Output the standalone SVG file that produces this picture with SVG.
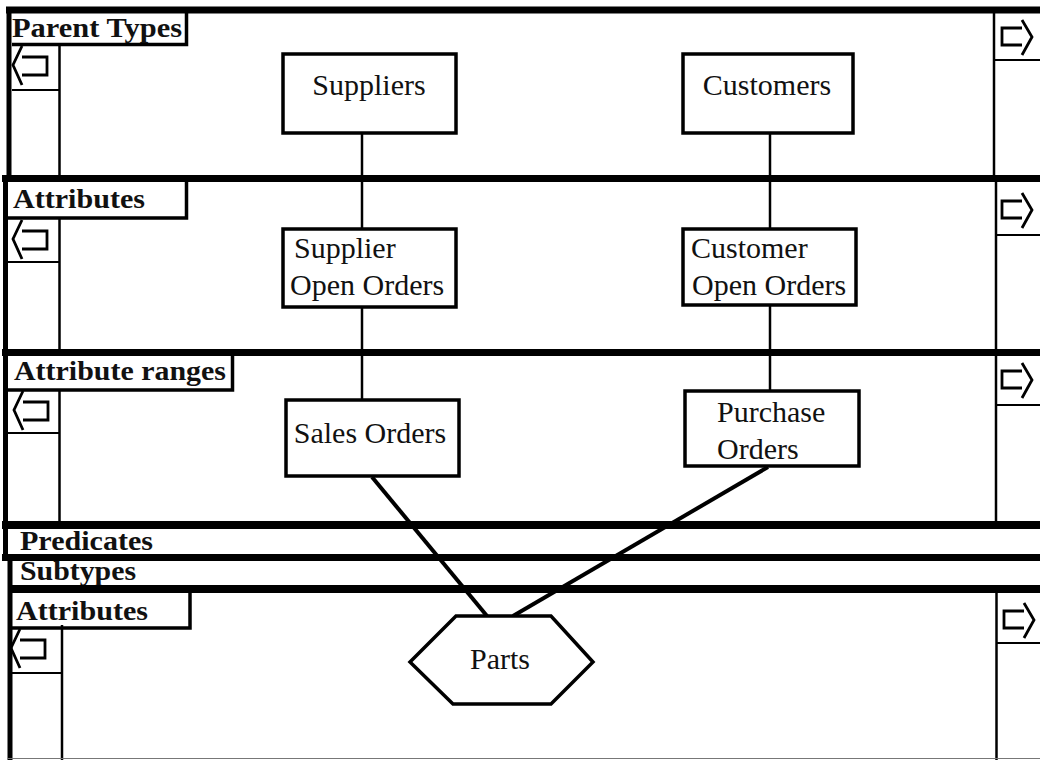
<svg xmlns="http://www.w3.org/2000/svg" width="1040" height="760" viewBox="0 0 1040 760">
  <defs>
    <style>
      .band { stroke: #000; stroke-linecap: butt; fill: none; }
      .thick { stroke-width: 7; }
      .edge { stroke-width: 5; }
      .thin { stroke: #000; stroke-width: 2.5; fill: none; }
      .hair { stroke: #000; stroke-width: 1.8; fill: none; }
      .lbl { font-family: "Liberation Serif", "Times New Roman", serif; font-weight: bold; font-size: 27px; fill: #111; }
      .node { fill: #fff; stroke: #000; stroke-width: 3.5; }
      .ntxt { font-family: "Liberation Serif", "Times New Roman", serif; font-size: 30px; fill: #111; }
      .arrow { stroke: #000; stroke-width: 2.8; fill: none; stroke-linejoin: miter; }
      .conn { stroke: #000; fill: none; }
    </style>
    <!-- open "hollow arrow" markers used in the scroll boxes -->
    <g id="arrow-left">
      <path class="arrow" d="M10,0 L1,19 L10,39 M10,11 H35 V29 H10"/>
    </g>
    <g id="arrow-right">
      <path class="arrow" d="M20,0 L30,17 L20,35 M20,8 H0 V25 H20"/>
    </g>
  </defs>

  <rect x="0" y="0" width="1040" height="760" fill="#fff"/>

  <!-- Panel: Parent Types -->
  <g id="panel-parent-types">
    <line class="band thick" x1="6" y1="10" x2="1040" y2="10"/>
    <line class="band edge" x1="9" y1="7" x2="9" y2="180"/>
    <path class="thin" d="M12,44.5 H186.5 V13" style="stroke-width:3.5"/>
    <text class="lbl" x="12" y="37" textLength="170" lengthAdjust="spacingAndGlyphs">Parent Types</text>
    <line class="hair" x1="12" y1="90" x2="59" y2="90"/>
    <line class="thin" x1="59.5" y1="45" x2="59.5" y2="176"/>
    <use href="#arrow-left" x="12" y="46"/>
    <line class="thin" x1="994" y1="13" x2="994" y2="176"/>
    <line class="hair" x1="994" y1="60" x2="1040" y2="60"/>
    <use href="#arrow-right" x="1002" y="20"/>
  </g>

  <!-- Panel: Attributes -->
  <g id="panel-attributes">
    <line class="band thick" x1="2" y1="178.5" x2="1040" y2="178.5"/>
    <line class="band edge" x1="5.5" y1="176" x2="5.5" y2="354"/>
    <path class="thin" d="M8,218 H186.5 V182" style="stroke-width:3.5"/>
    <text class="lbl" x="13" y="208" textLength="132" lengthAdjust="spacingAndGlyphs">Attributes</text>
    <line class="hair" x1="8" y1="262" x2="59" y2="262"/>
    <line class="thin" x1="59.5" y1="218" x2="59.5" y2="350"/>
    <use href="#arrow-left" x="12" y="220"/>
    <line class="thin" x1="996" y1="182" x2="996" y2="350"/>
    <line class="hair" x1="996" y1="235" x2="1040" y2="235"/>
    <use href="#arrow-right" x="1002" y="193"/>
  </g>

  <!-- Panel: Attribute ranges -->
  <g id="panel-attribute-ranges">
    <line class="band thick" x1="2" y1="352.5" x2="1040" y2="352.5"/>
    <line class="band edge" x1="5.5" y1="350" x2="5.5" y2="528"/>
    <path class="thin" d="M8,390 H232.5 V356" style="stroke-width:3.5"/>
    <text class="lbl" x="14" y="380" textLength="212" lengthAdjust="spacingAndGlyphs">Attribute ranges</text>
    <line class="hair" x1="8" y1="433" x2="59" y2="433"/>
    <line class="thin" x1="59.5" y1="390" x2="59.5" y2="522"/>
    <use href="#arrow-left" x="13" y="391"/>
    <line class="thin" x1="996" y1="355" x2="996" y2="521"/>
    <line class="hair" x1="996" y1="405" x2="1040" y2="405"/>
    <use href="#arrow-right" x="1002" y="363"/>
  </g>

  <!-- Bands: Predicates, Subtypes -->
  <g id="band-predicates">
    <line class="band" style="stroke-width:8" x1="2" y1="525" x2="1040" y2="525"/>
    <line class="band edge" x1="5.5" y1="522" x2="5.5" y2="561"/>
    <text class="lbl" x="20" y="550" textLength="133" lengthAdjust="spacingAndGlyphs">Predicates</text>
  </g>
  <g id="band-subtypes">
    <line class="band thick" x1="2" y1="557.5" x2="1040" y2="557.5"/>
    <line class="band edge" x1="10" y1="557" x2="10" y2="760"/>
    <text class="lbl" x="20" y="580" textLength="116" lengthAdjust="spacingAndGlyphs">Subtypes</text>
  </g>

  <!-- Panel: Attributes (lower) -->
  <g id="panel-attributes-lower">
    <line class="band" style="stroke-width:8" x1="8" y1="589" x2="1040" y2="589"/>
    <path class="thin" d="M12,628 H190 V593" style="stroke-width:3.5"/>
    <text class="lbl" x="16" y="620" textLength="132" lengthAdjust="spacingAndGlyphs">Attributes</text>
    <line class="hair" x1="12" y1="673" x2="62" y2="673"/>
    <line class="thin" x1="62" y1="625" x2="62" y2="760"/>
    <use href="#arrow-left" x="10" y="629"/>
    <line class="thin" x1="996.5" y1="593" x2="996.5" y2="760"/>
    <line class="hair" x1="996" y1="643" x2="1040" y2="643"/>
    <use href="#arrow-right" x="1004" y="603"/>
    <line x1="8" y1="758.5" x2="1040" y2="758.5" stroke="#777" stroke-width="1"/>
  </g>

  <!-- Connectors -->
  <g id="connectors">
    <line class="conn" stroke-width="2.5" x1="362" y1="133" x2="362" y2="228"/>
    <line class="conn" stroke-width="2.5" x1="362" y1="308" x2="362" y2="399"/>
    <line class="conn" stroke-width="2.5" x1="770" y1="133" x2="770" y2="228"/>
    <line class="conn" stroke-width="2.5" x1="770" y1="305" x2="770" y2="390"/>
    <line class="conn" stroke-width="4" x1="372" y1="477" x2="487" y2="616"/>
    <line class="conn" stroke-width="4" x1="768" y1="467" x2="513" y2="616"/>
  </g>

  <!-- Nodes -->
  <g id="node-suppliers">
    <rect class="node" x="283" y="54" width="173" height="79"/>
    <text class="ntxt" x="369" y="95" text-anchor="middle">Suppliers</text>
  </g>
  <g id="node-customers">
    <rect class="node" x="683" y="54" width="170" height="79"/>
    <text class="ntxt" x="767" y="95" text-anchor="middle">Customers</text>
  </g>
  <g id="node-supplier-open-orders">
    <rect class="node" x="283" y="229" width="173" height="78"/>
    <text class="ntxt" x="294" y="258">Supplier</text>
    <text class="ntxt" x="290" y="295">Open Orders</text>
  </g>
  <g id="node-customer-open-orders">
    <rect class="node" x="683" y="229" width="173" height="76"/>
    <text class="ntxt" x="691" y="258">Customer</text>
    <text class="ntxt" x="692" y="295">Open Orders</text>
  </g>
  <g id="node-sales-orders">
    <rect class="node" x="286" y="400" width="173" height="76"/>
    <text class="ntxt" x="370" y="443" text-anchor="middle">Sales Orders</text>
  </g>
  <g id="node-purchase-orders">
    <rect class="node" x="685" y="391" width="174" height="75"/>
    <text class="ntxt" x="717" y="422">Purchase</text>
    <text class="ntxt" x="717" y="459">Orders</text>
  </g>
  <g id="node-parts">
    <polygon class="node" points="456,616 551,616 593,662 551,704 453,704 410,662"/>
    <text class="ntxt" x="500" y="669" text-anchor="middle">Parts</text>
  </g>
</svg>
